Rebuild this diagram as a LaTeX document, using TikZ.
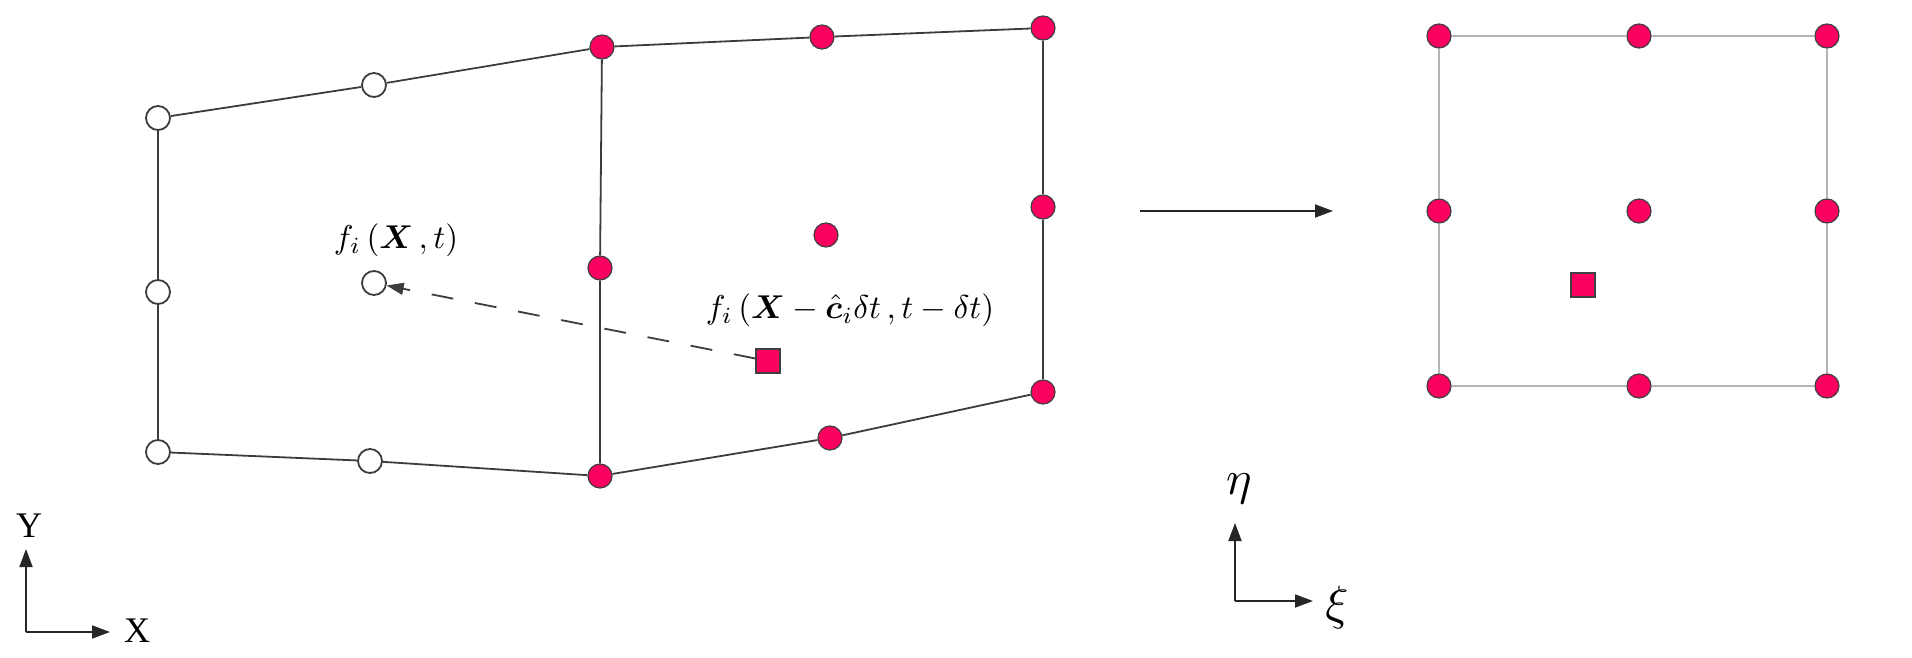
\documentclass[tikz,border=0pt]{standalone}
\usepackage{amsmath,bm}
\usepackage{graphicx}
\usepackage{fontspec}
\newfontfamily\tms{Liberation Serif}
\usetikzlibrary{arrows.meta}
\definecolor{nodered}{RGB}{250,0,95}
\definecolor{meshgray}{RGB}{60,60,60}
\definecolor{lightmesh}{RGB}{180,180,180}
\tikzset{
  wnode/.style={circle,draw=meshgray,line width=1.8pt,fill=white,minimum size=24pt,inner sep=0pt},
  rnode/.style={circle,draw=black!75,line width=1.2pt,fill=nodered,minimum size=24pt,inner sep=0pt},
  rsq/.style={rectangle,draw=black!75,line width=1.2pt,fill=nodered,minimum size=24pt,inner sep=0pt},
  meshline/.style={draw=meshgray,line width=1.8pt},
  lmeshline/.style={draw=lightmesh,line width=2.6pt},
  axisarrow/.style={draw=black!85,line width=1.8pt,-{Triangle[length=18pt,width=13pt]}},
  lbl/.style={inner sep=0pt},
  axlbl/.style={inner sep=0pt,anchor=base,font=\tms\fontsize{36}{42}\selectfont},
}
\begin{document}
\begin{tikzpicture}[x=1pt,y=-1pt]
\useasboundingbox (0,0) rectangle (1912,658);
% physical element nodes
\node[wnode] (a1) at (158,118) {};
\node[wnode] (a2) at (374,85) {};
\node[rnode] (a3) at (602,47) {};
\node[rnode] (a4) at (822,37) {};
\node[rnode] (a5) at (1043,28) {};
\node[wnode] (b1) at (158,292) {};
\node[wnode] (b2) at (374,283) {};
\node[rnode] (b3) at (600,268) {};
\node[rnode] (b4) at (826,235) {};
\node[rnode] (b5) at (1043,207) {};
\node[wnode] (c1) at (158,452) {};
\node[wnode] (c2) at (370,461) {};
\node[rnode] (c3) at (600,476) {};
\node[rnode] (c4) at (830,438) {};
\node[rnode] (c5) at (1043,392) {};
\node[rsq] (sq) at (768,361) {};
\draw[meshline] (a1) -- (a2) -- (a3) -- (a4) -- (a5);
\draw[meshline] (c1) -- (c2) -- (c3) -- (c4) -- (c5);
\draw[meshline] (a1) -- (b1) -- (c1);
\draw[meshline] (a3) -- (b3) -- (c3);
\draw[meshline] (a5) -- (b5) -- (c5);
\draw[draw=meshgray,line width=1.8pt,dash pattern=on 22pt off 22pt,-{Triangle[length=17pt,width=12pt]}] (sq) -- (b2);
\node[lbl] (l1) at (396,240) {\scalebox{3.3}{$f_i\,(\bm{X}\,,t)$}};
\node[lbl] (l2) at (850,310) {\scalebox{3.3}{$f_i\,(\bm{X}-\hat{\bm{c}}_i\delta t\,,t-\delta t)$}};
% mapping arrow
\coordinate (m1) at (1140,211);
\coordinate (m2) at (1333,211);
\draw[axisarrow] (m1) -- (m2);
% reference element
\node[rnode] (r11) at (1439,36) {};
\node[rnode] (r12) at (1639,36) {};
\node[rnode] (r13) at (1827,36) {};
\node[rnode] (r21) at (1439,211) {};
\node[rnode] (r22) at (1639,211) {};
\node[rnode] (r23) at (1827,211) {};
\node[rnode] (r31) at (1439,386) {};
\node[rnode] (r32) at (1639,386) {};
\node[rnode] (r33) at (1827,386) {};
\node[rsq] (rsq1) at (1583,285) {};
\draw[lmeshline] (r11) -- (r12) -- (r13) -- (r23) -- (r33) -- (r32) -- (r31) -- (r21) -- (r11);
% XY axes
\coordinate (o1) at (26,632);
\coordinate (ox) at (110,632);
\coordinate (oy) at (26,549);
\draw[axisarrow] (o1) -- (ox);
\draw[axisarrow] (o1) -- (oy);
\node[axlbl] (xl) at (137,642) {X};
\node[axlbl] (yl) at (29,537) {Y};
% xi eta axes
\coordinate (o2) at (1235,601);
\coordinate (oxi) at (1313,601);
\coordinate (oeta) at (1235,523);
\draw[axisarrow] (o2) -- (oxi);
\draw[axisarrow] (o2) -- (oeta);
\node[lbl] (etal) at (1239,489) {\scalebox{4.8}{$\eta$}};
\node[lbl] (xil) at (1337,607) {\scalebox{4.8}{$\xi$}};
\end{tikzpicture}
\end{document}
